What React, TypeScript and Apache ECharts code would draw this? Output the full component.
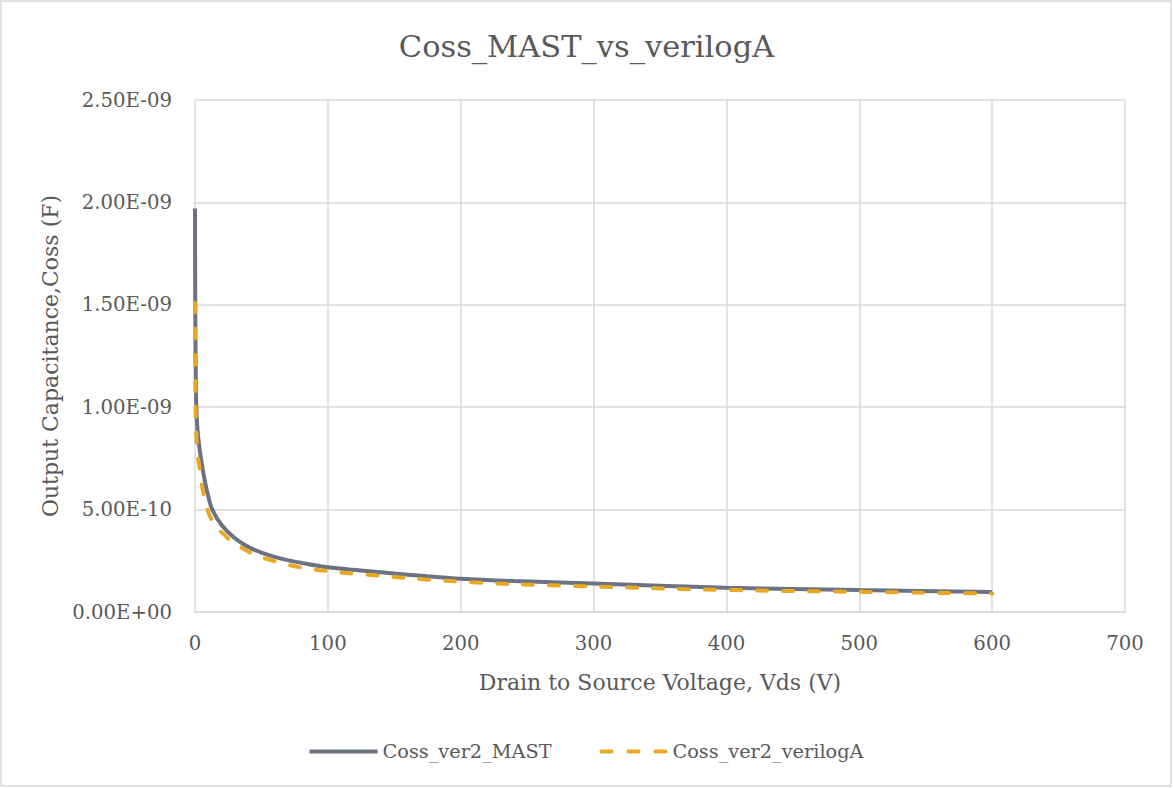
import React, { useEffect, useRef } from "react";
import * as echarts from "echarts";

const titleText = "Coss_MAST_vs_verilogA";
const xAxisTitle = "Drain to Source Voltage, Vds (V)";
const yAxisTitle = "Output Capacitance,Coss (F)";
const seriesNames = ["Coss_ver2_MAST", "Coss_ver2_verilogA"];

// Series 1: Coss_ver2_MAST  (Vds in V, Coss in F)
const mastVds = [0, 0.2, 0.5, 1, 2, 4, 6, 8, 10, 13, 20, 30, 40, 50, 64, 80, 100, 125, 150, 175, 200, 240, 275, 300, 400, 500, 600];
const mastCoss = [
  1.97e-9, 1.5e-9, 1.2e-9, 1.0e-9, 0.88e-9, 0.77e-9, 0.69e-9, 0.62e-9, 0.565e-9, 0.5e-9, 0.425e-9, 0.36e-9,
  0.318e-9, 0.29e-9, 0.262e-9, 0.24e-9, 0.218e-9, 0.203e-9, 0.188e-9, 0.174e-9, 0.162e-9, 0.151e-9, 0.144e-9,
  0.139e-9, 0.119e-9, 0.107e-9, 0.098e-9,
];

// Series 2: Coss_ver2_verilogA
const vaVds = [0, 0.3, 0.6, 1.7, 4, 7, 13, 24, 30, 44, 64, 84, 104, 122, 200, 285, 405, 505, 600];
const vaCoss = [
  1.51e-9, 1.1e-9, 0.95e-9, 0.79e-9, 0.68e-9, 0.56e-9, 0.445e-9, 0.365e-9, 0.335e-9, 0.283e-9, 0.241e-9,
  0.213e-9, 0.197e-9, 0.186e-9, 0.148e-9, 0.127e-9, 0.107e-9, 0.098e-9, 0.09e-9,
];

const xTicks = { min: 0, max: 700, interval: 100 };
const yTicks = { min: 0, max: 2.5e-9, interval: 0.5e-9 };

const FONT = "DejaVu Serif";
const TEXT = "#595959";
const GRID = "#d9d9d9";
const GRAY = "#6b7282";
const GOLD = "#e8a824";

function sci(v: number): string {
  if (Math.abs(v) < 1e-20) return "0.00E+00";
  const s = v.toExponential(2);
  const [m, e] = s.split("e");
  const n = parseInt(e, 10);
  const sign = n < 0 ? "-" : "+";
  const abs = Math.abs(n);
  return m + "E" + sign + (abs < 10 ? "0" + abs : String(abs));
}

const solidIcon = "path://M0,0H70V4H0Z";
const dashIcon = "path://M2,0H12A2,2 0 0 1 12,4H2A2,2 0 0 1 2,0Z M29,0H39A2,2 0 0 1 39,4H29A2,2 0 0 1 29,0Z M56,0H66A2,2 0 0 1 66,4H56A2,2 0 0 1 56,0Z";

export default function App() {
  const ref = useRef<HTMLDivElement>(null);
  useEffect(() => {
    if (!ref.current) return;
    const chart = echarts.init(ref.current, undefined, { renderer: "svg" });
    const pairs = (xs: number[], ys: number[]) => xs.map((x, i) => [x, ys[i]]);
    chart.setOption({
      animation: false,
      backgroundColor: "#ffffff",
      textStyle: { fontFamily: FONT, color: TEXT },
      title: {
        text: titleText,
        left: "center",
        top: 26,
        textStyle: { fontFamily: FONT, fontSize: 30.5, fontWeight: "normal", color: TEXT },
      },
      grid: { left: 195, right: 48, top: 100, bottom: 176 },
      xAxis: {
        type: "value",
        min: xTicks.min,
        max: xTicks.max,
        interval: xTicks.interval,
        name: xAxisTitle,
        nameLocation: "middle",
        nameGap: 59,
        nameTextStyle: { fontFamily: FONT, fontSize: 22, color: TEXT },
        axisLine: { show: true, lineStyle: { color: GRID, width: 1.5 } },
        axisTick: { show: false },
        axisLabel: { fontFamily: FONT, fontSize: 19.7, color: TEXT, margin: 21 },
        splitLine: { show: true, lineStyle: { color: GRID, width: 1.5 } },
      },
      yAxis: {
        type: "value",
        min: yTicks.min,
        max: yTicks.max,
        interval: yTicks.interval,
        name: yAxisTitle,
        nameLocation: "middle",
        nameGap: 131,
        nameTextStyle: { fontFamily: FONT, fontSize: 22, color: TEXT },
        axisLine: { show: false },
        axisTick: { show: false },
        axisLabel: { fontFamily: FONT, fontSize: 19.7, color: TEXT, margin: 23, formatter: (v: number) => sci(v) },
        splitLine: { show: true, lineStyle: { color: GRID, width: 1.5 } },
      },
      legend: {
        bottom: 22,
        left: "center",
        itemWidth: 68,
        itemHeight: 4,
        itemGap: 48,
        textStyle: { fontFamily: FONT, fontSize: 19.3, color: TEXT },
        data: [
          { name: seriesNames[0], icon: solidIcon },
          { name: seriesNames[1], icon: dashIcon },
        ],
      },
      series: [
        {
          name: seriesNames[0],
          type: "line",
          data: pairs(mastVds, mastCoss),
          showSymbol: false,
          symbol: "none",
          smooth: 0.4,
          lineStyle: { color: GRAY, width: 4 },
          itemStyle: { color: GRAY },
          z: 2,
        },
        {
          name: seriesNames[1],
          type: "line",
          data: pairs(vaVds, vaCoss),
          showSymbol: false,
          symbol: "none",
          smooth: 0.4,
          lineStyle: { color: GOLD, width: 4, type: [10, 16], cap: "round" },
          itemStyle: { color: GOLD },
          z: 3,
        },
      ],
      graphic: [
        {
          type: "rect",
          shape: { x: 1, y: 1, width: 1170, height: 785 },
          style: { fill: "none", stroke: GRID, lineWidth: 1.5 },
          silent: true,
        },
      ],
    });
    return () => chart.dispose();
  }, []);
  return <div ref={ref} style={{ position: "absolute", left: 0, top: 0, width: 1173, height: 788 }} />;
}
